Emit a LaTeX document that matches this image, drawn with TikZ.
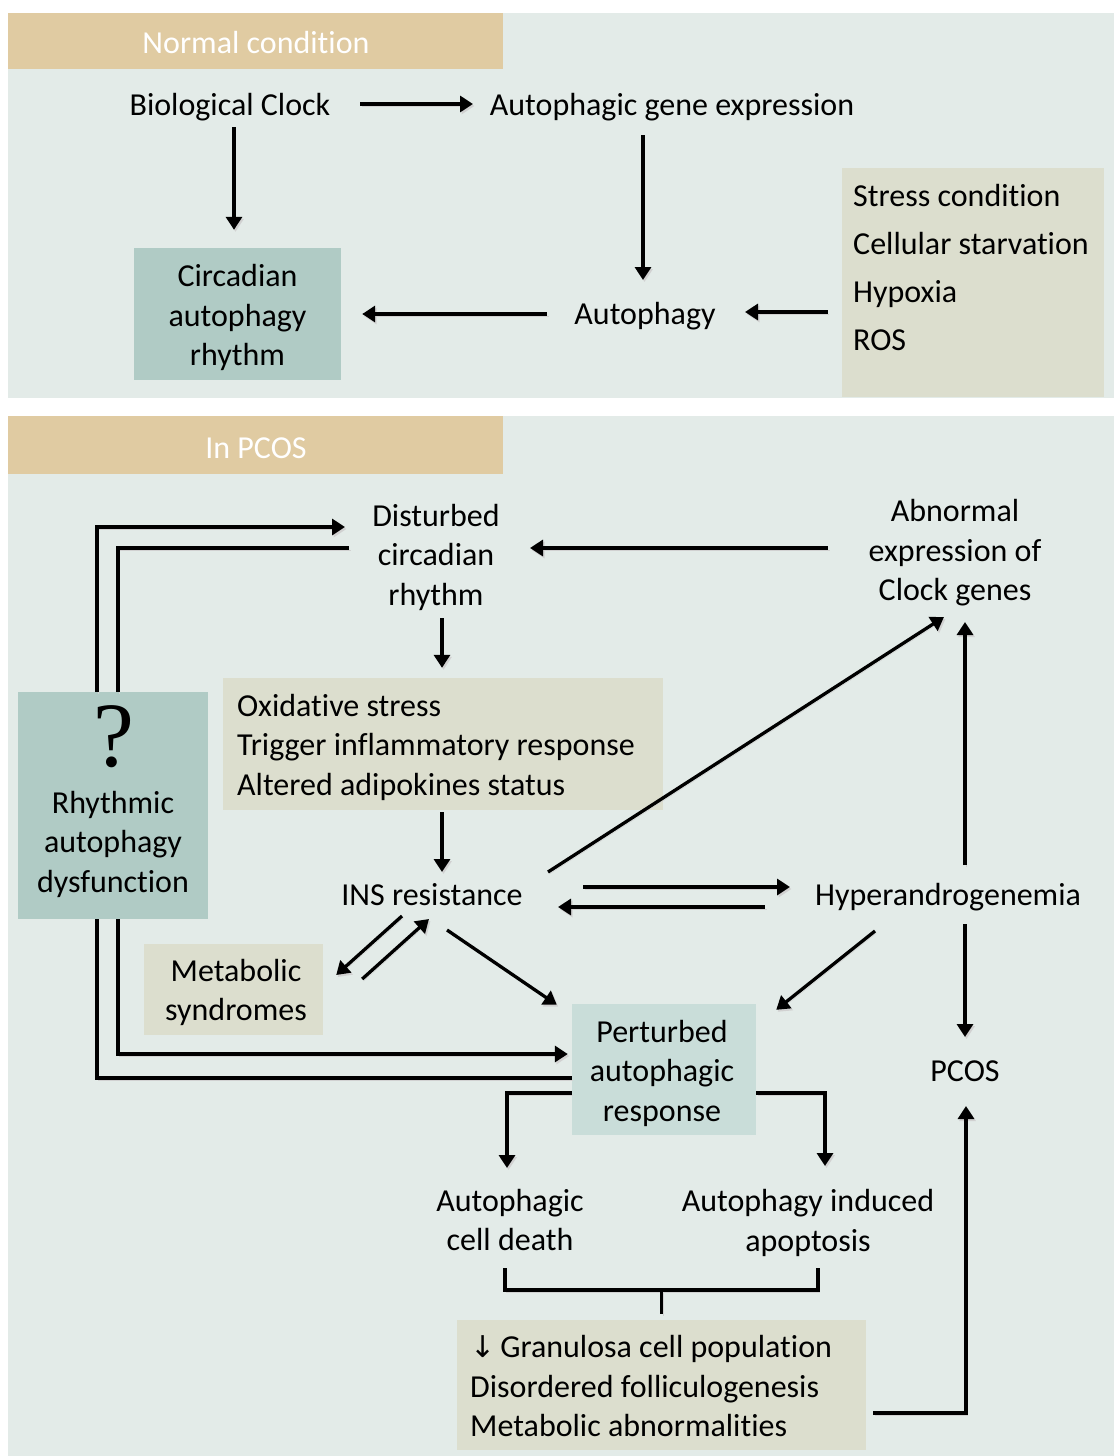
\documentclass[tikz,border=0pt]{standalone}
\usepackage{fontspec}
\setmainfont{Carlito}[Ligatures=NoCommon]
\newfontfamily\qfont{Liberation Serif}
\newfontfamily\arrfont{DejaVu Sans}
\usetikzlibrary{arrows.meta,calc}
\definecolor{panelbg}{HTML}{E3EBE8}
\definecolor{hdrtan}{HTML}{E0CBA2}
\definecolor{tealbox}{HTML}{B0CBC5}
\definecolor{lteal}{HTML}{C9DDD9}
\definecolor{beige}{HTML}{DCDECE}
\begin{document}
\begin{tikzpicture}[x=1pt,y=-1pt,
  every node/.style={font=\fontsize{32}{39.5}\selectfont, inner sep=0pt},
  lbl/.style={align=center},
  hdr/.style={fill=hdrtan, minimum width=495pt},
  hdrtxt/.style={text=white},
  fbox/.style={fill=#1},
  shd/.style={preaction={draw=black!18, transform canvas={shift={(1.5pt,-2pt)}}}},
  arr/.style={line width=3.3pt, shd, -{Triangle[length=13pt,width=16pt]}},
  ln/.style={line width=3.3pt, shd},
]
\fill[white] (0,0) rectangle (1114,1456);
\useasboundingbox (0,0) rectangle (1114,1456);
% panels
\fill[panelbg] (8,13) rectangle (1114,398);
\fill[panelbg] (8,416) rectangle (1114,1456);
\node[hdr, minimum height=56pt] (hdrA) at (255.5,41) {};
\node[hdrtxt] (hdrAt) at (256,43) {Normal condition};
\node[hdr, minimum height=58pt] (hdrB) at (255.5,445) {};
\node[hdrtxt] (hdrBt) at (256,448) {In PCOS};

% top panel nodes
\node (bc) at (230,107) {Biological Clock};
\node (age) at (672,107) {Autophagic gene expression};
\node[fbox=tealbox, minimum width=207pt, minimum height=132pt] (car) at (237.5,314) {};
\node[lbl] (cart) at (237.5,317.5) {Circadian\\autophagy\\rhythm};
\node (aut) at (645,316) {Autophagy};
\node[fbox=beige, minimum width=262pt, minimum height=229pt] (stressbox) at (973,282.5) {};
\node[align=left, anchor=west, font=\fontsize{32}{48}\selectfont] (stress) at (853,267) {Stress condition\\Cellular starvation\\Hypoxia\\ROS};

\draw[arr] ($(bc)+(130,-3)$) -- ($(age)+(-199,-3)$);
\draw[arr] ($(bc)+(4,20)$) -- ($(car.north)+(-3.5,-18)$);
\draw[arr] ($(age)+(-29,28)$) -- ($(aut)+(-2,-36)$);
\draw[arr] ($(aut)+(-98,-2)$) -- ($(car.east)+(21,0)$);
\draw[arr] ($(stressbox.west)+(-14,29.5)$) -- ($(aut)+(100,-4)$);

% lower panel nodes
\node[lbl] (dcr) at (436,557) {Disturbed\\circadian\\rhythm};
\node[lbl] (aec) at (955,553) {Abnormal\\expression of\\Clock genes};
\node[fbox=beige, minimum width=440pt, minimum height=132pt] (ox) at (443,744) {};
\node[align=left, anchor=west] (oxt) at (237,747) {Oxidative stress\\Trigger inflammatory response\\Altered adipokines status};
\node (ins) at (432,895) {INS resistance};
\node (hyp) at (948,897) {Hyperandrogenemia};
\node (pcos) at (965,1071) {PCOS};
\node[fbox=beige, minimum width=179pt, minimum height=91pt] (met) at (233.5,989.5) {};
\node[lbl] (mett) at (236,992.5) {Metabolic\\syndromes};
\node[fbox=lteal, minimum width=184pt, minimum height=131pt] (per) at (664,1069.5) {};
\node[lbl] (pert) at (662,1073) {Perturbed\\autophagic\\response};
\node[fbox=tealbox, minimum width=190pt, minimum height=227pt] (rhy) at (113,805.5) {};
\node[font=\qfont\fontsize{92}{92}\selectfont] (q) at (114,737) {?};
\node[lbl] (rhyt) at (113,844) {Rhythmic\\autophagy\\dysfunction};
\node[lbl] (acd) at (510,1220) {Autophagic\\cell death};
\node[lbl] (aia) at (808,1223) {Autophagy induced\\apoptosis};
\node[fbox=beige, minimum width=409pt, minimum height=130pt] (gran) at (661.5,1385) {};
\node[align=left, anchor=west] (grant) at (470,1386) {{\arrfont\fontsize{30}{30}\selectfont ↓}\kern5pt Granulosa cell population\\Disordered folliculogenesis\\Metabolic abnormalities};

% lower connectors
\draw[arr] ($(aec)+(-127,-5)$) -- ($(dcr)+(94,-9)$);
\draw[arr] ($(dcr)+(6,61)$) -- ($(ox.north)+(-1,-10)$);
\draw[arr] ($(ox.south)+(-1,2)$) -- ($(ins)+(10,-23)$);
\draw[arr] ($(ins)+(116,-23)$) -- ($(aec)+(-11,64)$);
\draw[arr] ($(hyp)+(17,-32)$) -- ($(aec)+(10,69)$);
\draw[arr] ($(hyp)+(17,27)$) -- ($(pcos)+(0,-34)$);
\draw[arr] ($(ins)+(151,-8)$) -- ($(hyp)+(-158,-10)$);
\draw[arr] ($(hyp)+(-183,10)$) -- ($(ins)+(126,12)$);
\draw[arr] ($(hyp)+(-73,34)$) -- ($(per.north east)+(20,6)$);
\draw[arr] ($(ins)+(15,35)$) -- ($(per.north west)+(-15,1)$);
\draw[arr] ($(ins)+(-30,21)$) -- ($(met.east)+(13,-14.5)$);
\draw[arr] ($(met.east)+(39,-10.5)$) -- ($(ins)+(-3,24)$);
\draw[arr] ($(rhy.north)+(-16,0)$) |- ($(dcr)+(-91,-30)$);
\draw[ln] ($(dcr)+(-87,-9)$) -| ($(rhy.north)+(5,0)$);
\draw[arr] ($(rhy.south)+(5,0)$) |- ($(per.west)+(-4,-15.5)$);
\draw[ln] ($(per.west)+(0,8.5)$) -| ($(rhy.south)+(-16,0)$);
\draw[arr] ($(per.west)+(0,23.5)$) -| ($(acd)+(-3,-52)$);
\draw[arr] ($(per.east)+(0,23.5)$) -| ($(aia)+(17,-57)$);
\draw[ln] ($(acd)+(-5,48)$) |- ($(aia)+(10,67)$) -- ($(aia)+(10,45)$);
\draw[ln] ($(gran.north)+(0,-30)$) -- ($(gran.north)+(0,-6)$);
\draw[arr] ($(gran.east)+(7,28)$) -| ($(pcos)+(1,35)$);
\end{tikzpicture}
\end{document}
